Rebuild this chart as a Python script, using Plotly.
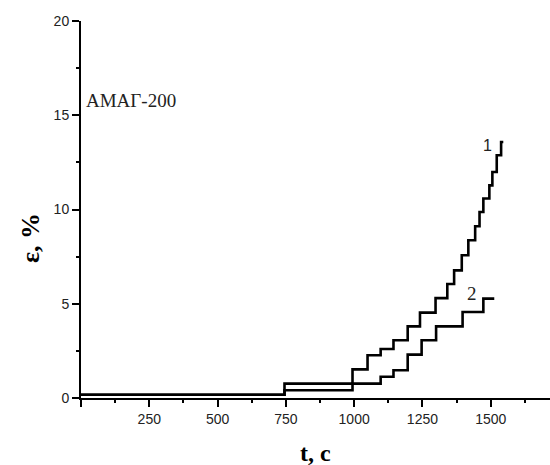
import plotly.graph_objects as go

# Curve 1 (step times, strain levels)
t1 = [0, 745, 994, 1049, 1097, 1144, 1196, 1241, 1298, 1341, 1366, 1394, 1418,
      1443, 1459, 1473, 1495, 1506, 1522, 1538, 1546]
e1 = [0.17, 0.76, 1.52, 2.27, 2.60, 3.06, 3.80, 4.53, 5.30, 6.05, 6.77, 7.57, 8.37,
      9.11, 9.87, 10.58, 11.28, 11.99, 12.88, 13.58, 13.58]

# Curve 2
t2 = [0, 745, 994, 1097, 1144, 1196, 1247, 1300, 1397, 1473, 1513]
e2 = [0.17, 0.41, 0.76, 1.13, 1.47, 2.30, 3.06, 3.80, 4.56, 5.27, 5.27]

x_tickvals = [0, 250, 500, 750, 1000, 1250, 1500, 1750]
x_ticktext = ["", "250", "500", "750", "1000", "1250", "1500", "1750"]
y_tickvals = [0, 5, 10, 15, 20]

fig = go.Figure()
fig.add_trace(go.Scatter(x=t1, y=e1, mode="lines", line=dict(color="black", width=2.6, shape="hv"),
                         name="1", showlegend=False))
fig.add_trace(go.Scatter(x=t2, y=e2, mode="lines", line=dict(color="black", width=2.6, shape="hv"),
                         name="2", showlegend=False))

tickfont = dict(family="Liberation Sans, Arial, sans-serif", size=14, color="#222")
serif = "Liberation Serif, Times New Roman, serif"

fig.update_layout(
    width=550, height=465,
    margin=dict(l=81, r=0, t=21, b=67, autoexpand=False),
    paper_bgcolor="white", plot_bgcolor="white",
    xaxis=dict(range=[0, 1717], tickvals=x_tickvals, ticktext=x_ticktext, automargin=False,
               showgrid=False, zeroline=False, showline=True, linecolor="black", linewidth=2,
               ticks="outside", ticklen=7, tickwidth=2, tickcolor="black",
               minor=dict(ticks="outside", ticklen=3, tickwidth=2, tickcolor="black", dtick=125, tick0=0),
               tickfont=tickfont),
    yaxis=dict(range=[0, 20], tickvals=y_tickvals, automargin=False,
               showgrid=False, zeroline=False, showline=True, linecolor="black", linewidth=2,
               ticks="outside", ticklen=7, tickwidth=2, tickcolor="black",
               minor=dict(ticks="outside", ticklen=3, tickwidth=2, tickcolor="black", dtick=2.5, tick0=0),
               tickfont=tickfont),
    annotations=[
        dict(x=0.499, y=-0.146, xref="paper", yref="paper", text="<b>t, c</b>", showarrow=False,
             xanchor="center", yanchor="middle",
             font=dict(family=serif, size=24, color="black")),
        dict(x=-0.109, y=0.424, xref="paper", yref="paper", text="<b>ε, %</b>", showarrow=False,
             xanchor="center", yanchor="middle", textangle=-90,
             font=dict(family=serif, size=26, color="black")),
        dict(x=12, y=15.8, xref="x", yref="y", text="АМАГ-200", showarrow=False, xanchor="left",
             font=dict(family=serif, size=19, color="#222")),
        dict(x=1489, y=13.4, xref="x", yref="y", text="1", showarrow=False,
             font=dict(family="Liberation Sans, Arial, sans-serif", size=16, color="#222")),
        dict(x=1432, y=5.57, xref="x", yref="y", text="2", showarrow=False,
             font=dict(family=serif, size=19, color="#222")),
    ],
)

fig.write_html("out.html", config={"displayModeBar": False},
               post_script="document.body.style.margin='0';document.body.style.overflow='hidden';")
